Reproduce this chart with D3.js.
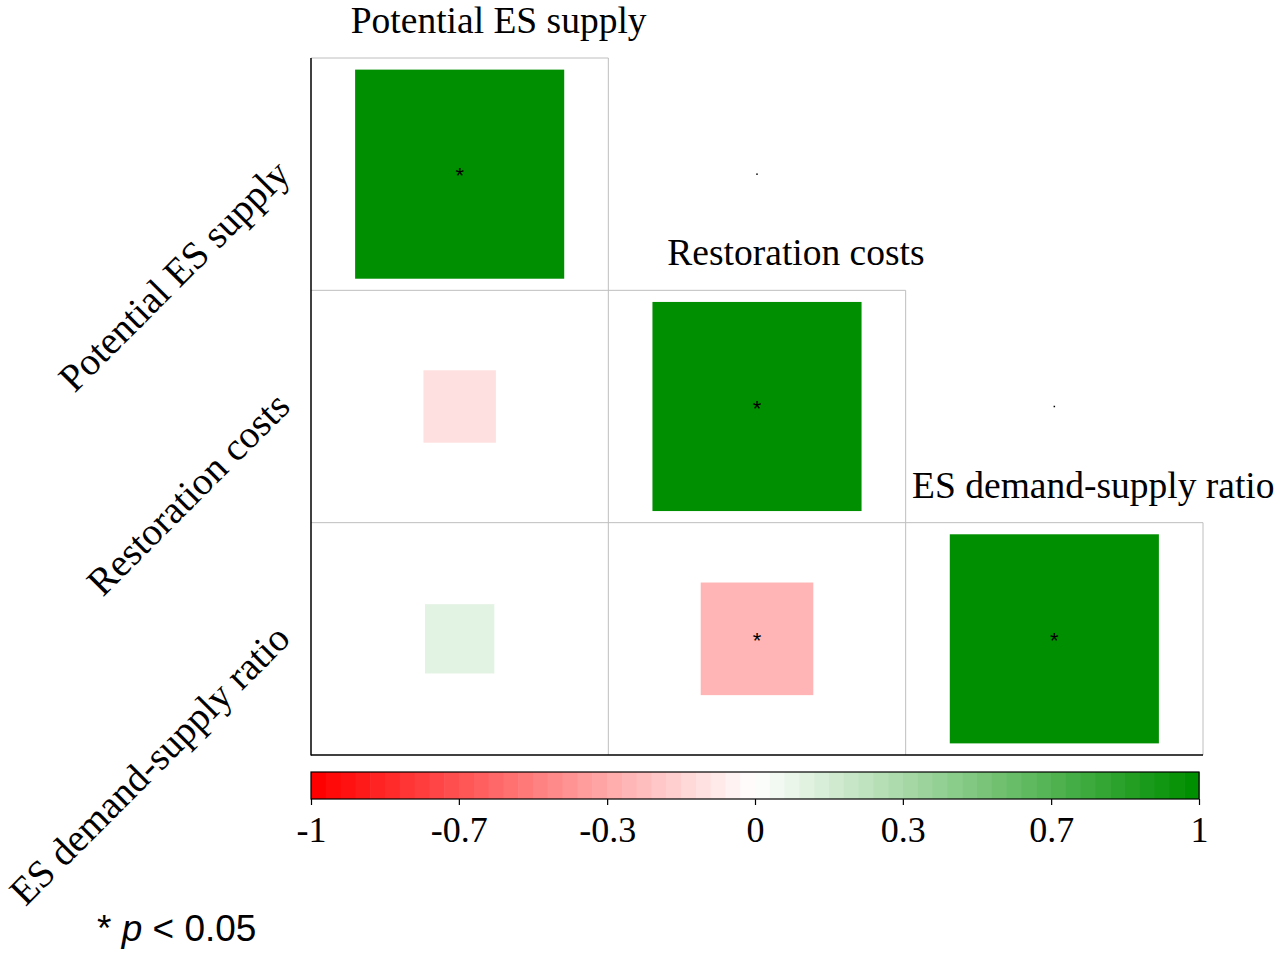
<!DOCTYPE html>
<html>
<head>
<meta charset="utf-8">
<script src="https://cdn.jsdelivr.net/npm/d3@7"></script>
<style>
  html, body { margin: 0; padding: 0; background: #fff; }
  svg { display: block; }
</style>
</head>
<body>
<svg id="chart" width="1288" height="953"></svg>
<script>
// ---- data ----
const variables = ["Potential ES supply", "Restoration costs", "ES demand-supply ratio"];
// lower-triangle correlations
const corrRows = [0, 1, 1, 2, 2, 2];
const corrCols = [0, 0, 1, 0, 1, 2];
const corrValues = [1, -0.12, 1, 0.11, -0.29, 1];
const corrSig = [true, false, true, false, true, true];
const colorbarTicks = [-1, -0.667, -0.333, 0, 0.333, 0.667, 1];
const colorbarTickLabels = ["-1", "-0.7", "-0.3", "0", "0.3", "0.7", "1"];
const nColorSteps = 60;
const noteText = "p";

(function () {
const svg = d3.select("#chart");
const plotLeft = 311, plotRight = 1203, plotTop = 58, plotBottom = 755;
const x = d3.scaleBand().domain(d3.range(variables.length)).range([plotLeft, plotRight]);
const y = d3.scaleBand().domain(d3.range(variables.length)).range([plotTop, plotBottom]);
const minCell = Math.min(x.bandwidth(), y.bandwidth());

const color = d3.scaleLinear().domain([-1, 0, 1]).range(["#FF0000", "#FFFFFF", "#008F00"]).interpolate(d3.interpolateRgb);
const size = d3.scaleSqrt().domain([0, 1]).range([0, 0.9 * minCell]);

const serif = "'Liberation Serif', 'Times New Roman', serif";
const sans = "'Liberation Sans', Arial, sans-serif";
const grid = "#BEBEBE";

const n = variables.length;
const g = svg.append("g");
for (let i = 0; i < n; i++) {
  g.append("line").attr("x1", x(0)).attr("x2", x(i) + x.bandwidth())
    .attr("y1", y(i)).attr("y2", y(i)).attr("stroke", grid).attr("stroke-width", 1);
  g.append("line").attr("x1", x(i) + x.bandwidth()).attr("x2", x(i) + x.bandwidth())
    .attr("y1", y(i)).attr("y2", plotBottom).attr("stroke", grid).attr("stroke-width", 1);
}
g.append("line").attr("x1", plotLeft).attr("x2", plotLeft).attr("y1", plotTop).attr("y2", plotBottom + 0.5)
  .attr("stroke", "#000").attr("stroke-width", 1.5);
g.append("line").attr("x1", plotLeft).attr("x2", plotRight).attr("y1", plotBottom).attr("y2", plotBottom)
  .attr("stroke", "#000").attr("stroke-width", 1.5);

// squares
const cells = corrValues.map((v, k) => ({ r: corrRows[k], c: corrCols[k], v, sig: corrSig[k] }));
svg.append("g").selectAll("rect").data(cells).join("rect")
  .attr("x", d => x(d.c) + x.bandwidth() / 2 - size(Math.abs(d.v)) / 2)
  .attr("y", d => y(d.r) + y.bandwidth() / 2 - size(Math.abs(d.v)) / 2)
  .attr("width", d => size(Math.abs(d.v)))
  .attr("height", d => size(Math.abs(d.v)))
  .attr("fill", d => color(d.v));

// significance stars
svg.append("g").selectAll("text").data(cells.filter(d => d.sig)).join("text")
  .attr("x", d => x(d.c) + x.bandwidth() / 2)
  .attr("y", d => y(d.r) + y.bandwidth() / 2 + 9)
  .attr("text-anchor", "middle")
  .attr("font-family", sans)
  .attr("font-size", 22)
  .attr("fill", "#000")
  .text("*");

// tiny dots in adjacent upper cells
const dots = d3.range(n - 1).map(i => ({ r: i, c: i + 1 }));
svg.append("g").selectAll("rect").data(dots).join("rect")
  .attr("x", d => x(d.c) + x.bandwidth() / 2 - 0.75)
  .attr("y", d => y(d.r) + y.bandwidth() / 2 - 0.75)
  .attr("width", 1.5).attr("height", 1.5).attr("fill", "#000");

// column labels
svg.append("g").selectAll("text").data(variables).join("text")
  .attr("x", (d, i) => x(i) + x.bandwidth() / 2 + 39)
  .attr("y", (d, i) => y(i) - 25)
  .attr("text-anchor", "middle")
  .attr("font-family", serif)
  .attr("font-size", 37.5)
  .attr("fill", "#000")
  .text(d => d);

// row labels (rotated 45°)
svg.append("g").selectAll("text").data(variables).join("text")
  .attr("transform", (d, i) => `translate(${plotLeft - 19},${y(i) + y.bandwidth() / 2 + 2}) rotate(-45)`)
  .attr("text-anchor", "end")
  .attr("font-family", serif)
  .attr("font-size", 39)
  .attr("fill", "#000")
  .text(d => d);

// colorbar
const cbTop = 772, cbBottom = 799, cbLeft = 311, cbRight = 1199;
const cbx = d3.scaleLinear().domain([-1, 1]).range([cbLeft, cbRight]);
const steps = d3.range(nColorSteps).map(i => ({
  x0: -1 + i * 2 / nColorSteps,
  x1: -1 + (i + 1) * 2 / nColorSteps,
  v: -1 + i * 2 / (nColorSteps - 1)
}));
svg.append("g").selectAll("rect").data(steps).join("rect")
  .attr("x", d => cbx(d.x0))
  .attr("y", cbTop)
  .attr("width", d => cbx(d.x1) - cbx(d.x0) + 0.6)
  .attr("height", cbBottom - cbTop)
  .attr("fill", d => color(d.v));
svg.append("rect").attr("x", cbLeft).attr("y", cbTop)
  .attr("width", cbRight - cbLeft).attr("height", cbBottom - cbTop)
  .attr("fill", "none").attr("stroke", "#000").attr("stroke-width", 1.2);

const cbAxis = d3.axisBottom(cbx).tickValues(colorbarTicks)
  .tickFormat((d, i) => colorbarTickLabels[i]).tickSize(6).tickSizeOuter(0);
const axg = svg.append("g").attr("transform", `translate(0,${cbBottom})`).call(cbAxis);
axg.select(".domain").remove();
axg.selectAll(".tick line").attr("stroke", "#000").attr("stroke-width", 1.2);
axg.selectAll(".tick text")
  .attr("font-family", serif).attr("font-size", 36).attr("fill", "#000")
  .attr("dy", 0).attr("y", 43);

// note
const note = svg.append("text").attr("x", 97).attr("y", 941)
  .attr("font-family", sans)
  .attr("font-size", 37).attr("fill", "#000");
note.append("tspan").text("* ");
note.append("tspan").attr("font-style", "italic").text(noteText);
note.append("tspan").text(" < 0.05");
})();
</script>
</body>
</html>
